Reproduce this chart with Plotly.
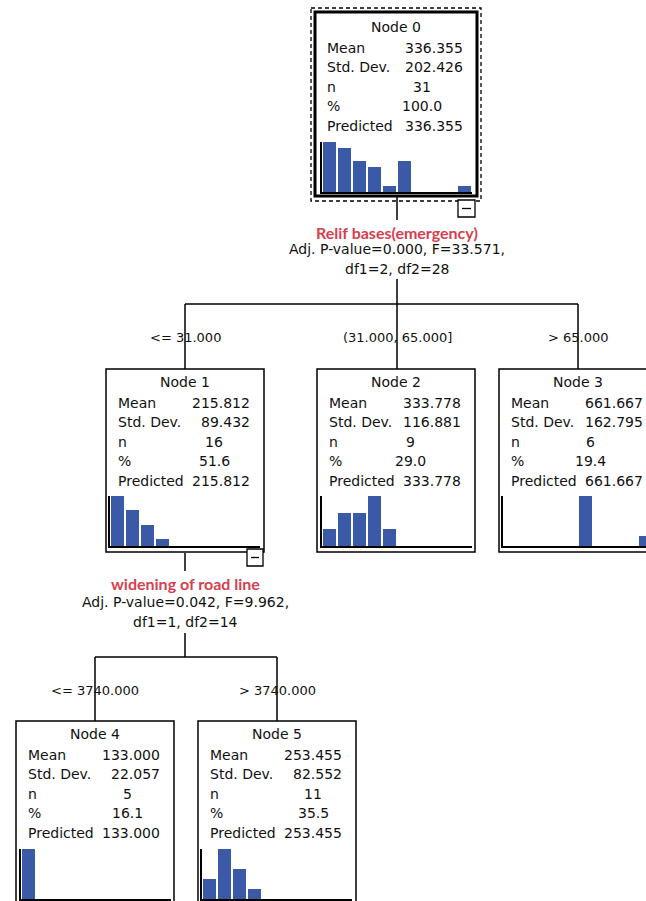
import plotly.graph_objects as go

# ---------------- data ----------------
node_names = ["Node 0", "Node 1", "Node 2", "Node 3", "Node 4", "Node 5"]
means = [336.355, 215.812, 333.778, 661.667, 133.000, 253.455]
std_devs = [202.426, 89.432, 116.881, 162.795, 22.057, 82.552]
ns = [31, 16, 9, 6, 5, 11]
pcts = [100.0, 51.6, 29.0, 19.4, 16.1, 35.5]
predicted = [336.355, 215.812, 333.778, 661.667, 133.000, 253.455]
bins = list(range(10))
hist_node0 = [8, 7, 5, 4, 1, 5, 0, 0, 0, 1]
hist_node1 = [7, 5, 3, 1, 0, 0, 0, 0, 0, 0]
hist_node2 = [1, 2, 2, 3, 1, 0, 0, 0, 0, 0]
hist_node3 = [0, 0, 0, 0, 0, 5, 0, 0, 0, 1]
hist_node4 = [5, 0, 0, 0, 0, 0, 0, 0, 0, 0]
hist_node5 = [2, 5, 3, 1, 0, 0, 0, 0, 0, 0]
split_vars = ["Relif bases(emergency)", "widening of road line"]
split_stats1 = ["Adj. P-value=0.000, F=33.571,", "Adj. P-value=0.042, F=9.962,"]
split_stats2 = ["df1=2, df2=28", "df1=1, df2=14"]
branch_labels = ["<= 31.000", "(31.000, 65.000]", "> 65.000", "<= 3740.000", "> 3740.000"]
row_labels = ["Mean", "Std. Dev.", "n", "%", "Predicted"]

hists = [hist_node0, hist_node1, hist_node2, hist_node3, hist_node4, hist_node5]

# ---------------- layout geometry (screen pixels) ----------------
W, H = 646, 901
OFF = 0  # body margin removed below, figure origin at screen (0, 0)
VIS = 646  # right edge of the visible window
boxes = [(315, 12, 477, 196), (106, 369, 264, 552), (317, 369, 475, 552),
         (499, 369, 657, 552), (16, 721, 174, 912), (198, 721, 356, 912)]
hist_left = [322, 110, 322, 503, 21, 202]
hist_base = [192, 546, 546, 546, 899, 899]
center_cols = [422, 214, 410, 590, 127, 313]
title_top = [14, 369, 369, 369, 721, 721]

BLUE = "#3a5aa8"
FONT = "DejaVu Sans"
RED = "#d6404f"

fig = go.Figure()
shapes = []
ann = []

def line(x0, y0, x1, y1, w=1.5):
    shapes.append(dict(type="line", x0=x0, y0=y0, x1=x1, y1=y1, xref="x", yref="y",
                       line=dict(color="black", width=w)))

def text(x, y, s, size=14, anchor="center", color="#111", family=FONT, bold=False):
    if bold:
        s = "<b>" + s + "</b>"
    ann.append(dict(x=x, y=y, xref="x", yref="y", text=s, showarrow=False,
                    xanchor=anchor, yanchor="middle",
                    font=dict(family=family, size=size, color=color)))

def dx(px):
    return (px - OFF) / W

def dy(py):
    return 1 - (py - OFF) / H

# histograms in small axes
layout_axes = {}
for i, counts in enumerate(hists):
    k = i + 2
    hl = hist_left[i]
    hr = min(hl + 150, VIS)
    xr_end = -0.5 + (hr - hl) / 15.0
    b = hist_base[i]
    fig.add_trace(go.Bar(x=bins, y=counts, width=0.93, marker=dict(color=BLUE, line=dict(width=0)),
                         xaxis=f"x{k}", yaxis=f"y{k}", showlegend=False, hoverinfo="skip"))
    layout_axes[f"xaxis{k}"] = dict(domain=[dx(hl), dx(hr)], range=[-0.5, xr_end], anchor=f"y{k}",
                                    showline=True, linecolor="black", linewidth=1.5,
                                    showgrid=False, zeroline=False, showticklabels=False, ticks="")
    layout_axes[f"yaxis{k}"] = dict(domain=[max(dy(b), 0), dy(b - 50)], range=[0, max(counts)],
                                    anchor=f"x{k}", showline=True, linecolor="black", linewidth=1.5,
                                    showgrid=False, zeroline=False, showticklabels=False, ticks="")

# node boxes and text
for i, (l, t, r, btm) in enumerate(boxes):
    if i == 0:
        shapes.append(dict(type="rect", x0=311, y0=8, x1=481, y1=201, xref="x", yref="y",
                           line=dict(color="black", width=1.3, dash="4px,3px")))
        shapes.append(dict(type="rect", x0=l, y0=t, x1=r, y1=btm, xref="x", yref="y",
                           line=dict(color="black", width=3)))
    else:
        shapes.append(dict(type="rect", x0=l, y0=t, x1=r, y1=btm, xref="x", yref="y",
                           line=dict(color="black", width=1.5)))
    tt = title_top[i]
    text((l + r) / 2, tt + 13, node_names[i])
    vals = [f"{means[i]:.3f}", f"{std_devs[i]:.3f}", f"{ns[i]}", f"{pcts[i]:.1f}", f"{predicted[i]:.3f}"]
    for j, lab in enumerate(row_labels):
        y = tt + 34 + j * 19.4
        text(l + 10, y, lab, anchor="left")
        if j in (2, 3):
            text(center_cols[i], y, vals[j], anchor="center")
        else:
            text(min(r - 12, VIS - 1), y, vals[j], anchor="right")

# collapse buttons
for (bx0, by0, bx1, by1) in [(458, 200, 475, 217), (247, 549, 263, 566)]:
    shapes.append(dict(type="rect", x0=bx0, y0=by0, x1=bx1, y1=by1, xref="x", yref="y",
                       fillcolor="white", line=dict(color="black", width=1.3)))
    line(bx0 + 4, (by0 + by1) / 2, bx1 - 4, (by0 + by1) / 2, 1.3)

# connectors, first split
line(397, 197, 397, 220)
line(397, 279, 397, 369)
line(185, 304, 578, 304)
line(185, 304, 185, 369)
line(578, 304, 578, 369)
text(397, 232, split_vars[0], size=16, color=RED, family="Lato", bold=True)
text(397, 249, split_stats1[0])
text(397, 269, split_stats2[0])
text(185, 337, branch_labels[0], size=13)
text(397, 337, branch_labels[1], size=13)
text(578, 337, branch_labels[2], size=13)

# second split
line(185, 553, 185, 571)
line(185, 633, 185, 657)
line(95, 657, 277, 657)
line(95, 657, 95, 721)
line(277, 657, 277, 721)
text(185, 583, split_vars[1], size=16, color=RED, family="Lato", bold=True)
text(185, 602, split_stats1[1])
text(185, 622, split_stats2[1])
text(95, 690, branch_labels[3], size=13)
text(277, 690, branch_labels[4], size=13)

fig.update_layout(
    width=W, height=H, margin=dict(l=0, r=0, t=0, b=0),
    paper_bgcolor="white", plot_bgcolor="rgba(0,0,0,0)",
    xaxis=dict(domain=[0, 1], range=[OFF, OFF + W], visible=False, fixedrange=True),
    yaxis=dict(domain=[0, 1], range=[OFF + H, OFF], visible=False, fixedrange=True),
    shapes=shapes, annotations=ann, bargap=0, showlegend=False,
    **layout_axes,
)
fig.write_html("out.html", config={"displayModeBar": False},
               post_script="document.body.style.margin='0';document.body.style.overflow='hidden';")
